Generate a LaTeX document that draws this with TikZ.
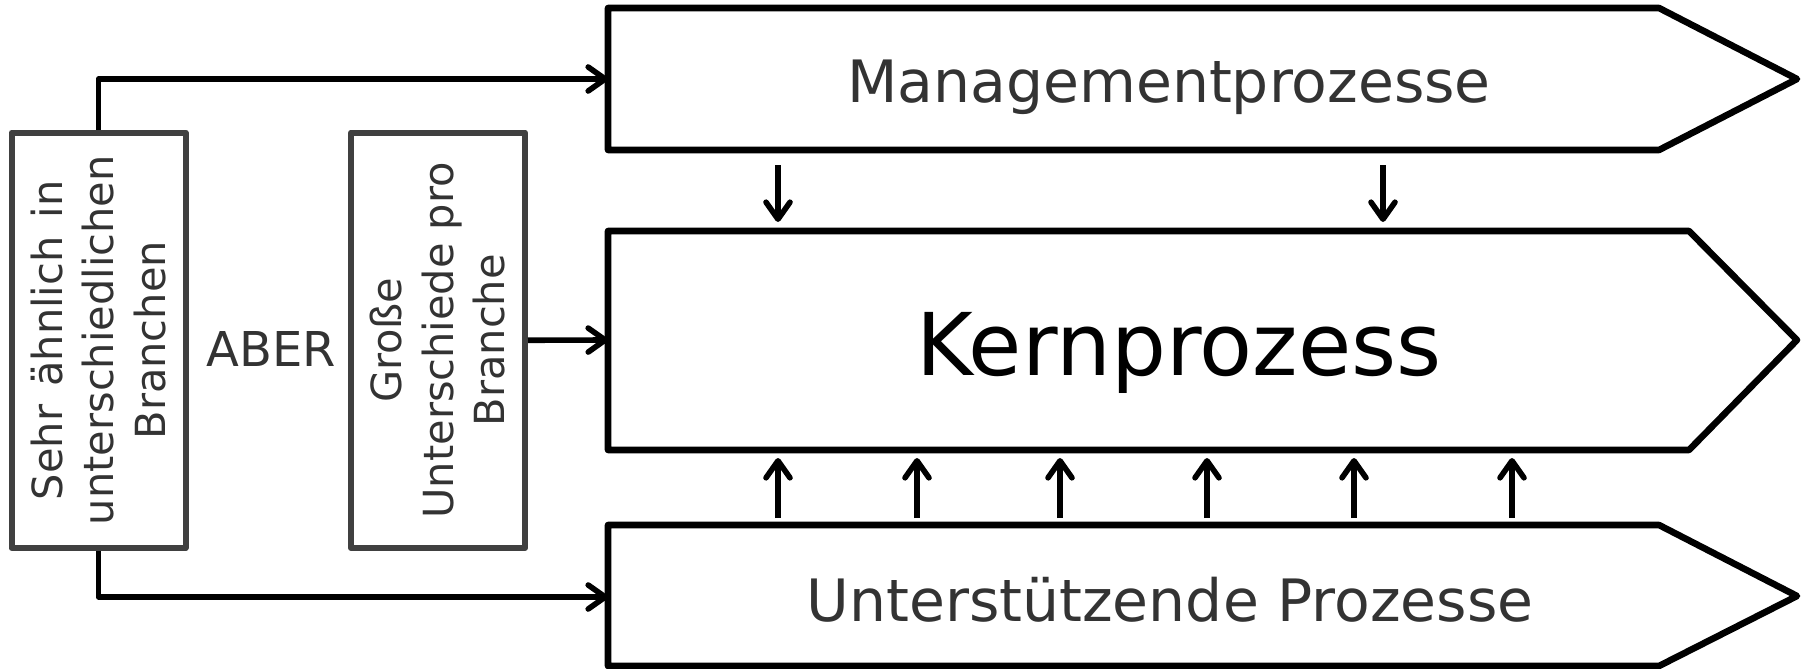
\documentclass[tikz,border=0pt]{standalone}
\usepackage{fontspec}
\setmainfont{DejaVu Sans}
\usetikzlibrary{arrows.meta}
\definecolor{txtgray}{HTML}{333333}
\definecolor{boxgray}{HTML}{404040}
\begin{document}
\begin{tikzpicture}[x=0.5pt,y=-0.5pt,
  proc/.style={draw=black, line width=3.3pt, line join=round, fill=white},
  lbox/.style={draw=boxgray, line width=3pt, line join=round, rectangle, inner sep=0pt,
               minimum width=87pt, minimum height=207.75pt},
  conn/.style={draw=black, line width=2.8pt, line join=round,
               -{Straight Barb[round, length=8.5pt, width=12pt]}},
  bigtext/.style={anchor=base, text=txtgray, inner sep=0pt, font=\fontsize{29.2}{35}\selectfont},
  rottext/.style={rotate=90, align=center, text=txtgray, inner sep=0pt,
                  font=\fontsize{20.75}{25.75}\selectfont}]
\useasboundingbox (0,0) rectangle (1806,669);

% main process shapes
\draw[proc] (608,8) -- (1659,8) -- (1797,79) -- (1659,150) -- (608,150) -- cycle;
\draw[proc] (608,231) -- (1689,231) -- (1797,340) -- (1689,450) -- (608,450) -- cycle;
\draw[proc] (608,525) -- (1659,525) -- (1797,596) -- (1659,666) -- (608,666) -- cycle;
\coordinate (Mw) at (608,79);
\coordinate (Kw) at (608,340);
\coordinate (Uw) at (608,597);

\node[bigtext] (Mt) at (1169,102) {Managementprozesse};
\node[anchor=base, inner sep=0pt, font=\fontsize{43.3}{50}\selectfont] (Kt) at (1179,375) {Kernprozess};
\node[bigtext] (Ut) at (1170,621) {Unterstützende Prozesse};

% left boxes
\node[lbox] (b1) at (98.5,340.25) {};
\node[rottext] (b1t) at (b1) {Sehr\hspace{0.12em} ähnlich\hspace{0.12em} in\\unterschiedlichen\\Branchen};
\node[lbox] (b2) at (438,340.25) {};
\node[rottext] (b2t) at (b2) {Große\\Unterschiede pro\\Branche};
\node[anchor=base, inner sep=0pt, text=txtgray, font=\fontsize{24}{29}\selectfont] (aber) at (271,366) {ABER};

% connectors from the left boxes
\draw[conn] (b1.north) |- (Mw);
\draw[conn] (b1.south) |- (Uw);
\draw[conn] (b2.east) -- (Kw);

% management -> kern
\foreach \x [count=\i] in {778,1383} {
  \coordinate (ds\i) at (\x,165);
  \coordinate (de\i) at (\x,222);
  \draw[conn] (ds\i) -- (de\i);
}
% support -> kern
\foreach \x [count=\i] in {778,917,1060,1207,1354,1512} {
  \coordinate (us\i) at (\x,518);
  \coordinate (ue\i) at (\x,458);
  \draw[conn] (us\i) -- (ue\i);
}
\end{tikzpicture}
\end{document}
